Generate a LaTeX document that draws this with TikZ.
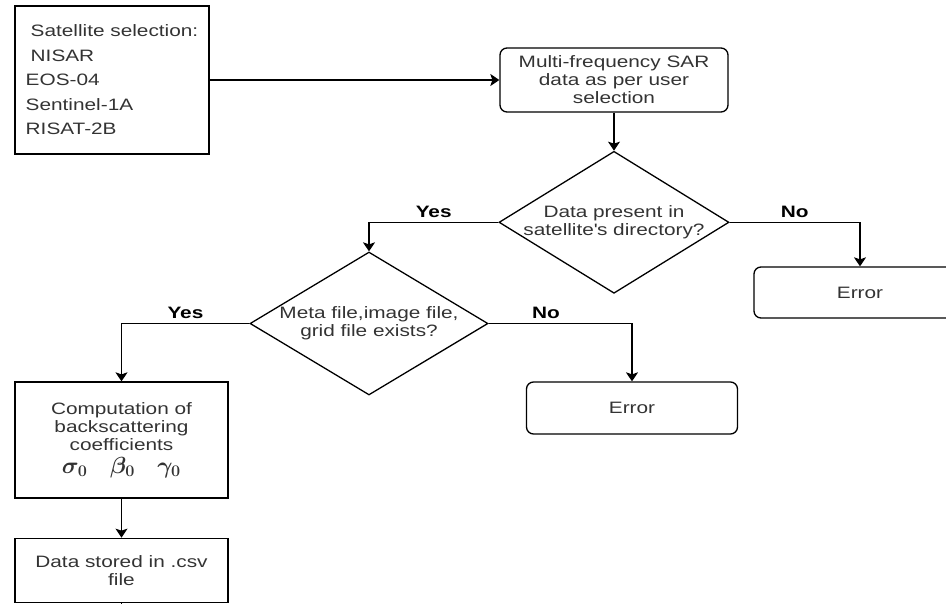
\documentclass[tikz,border=0pt]{standalone}
\usepackage{fontspec}
\setmainfont{Liberation Sans}[FakeStretch=1.26]
\usetikzlibrary{arrows.meta,positioning,shapes.geometric}

\begin{document}
\begin{tikzpicture}[x=1pt,y=-1pt,
  node distance=38pt and 20pt,
  every node/.style={font=\fontsize{16.5}{18}\selectfont,text=black!80},
  box/.style={draw,line width=1.3pt,align=center,inner sep=2pt},
  rbox/.style={box,rounded corners=7pt},
  dec/.style={draw,diamond,line width=1.3pt,inner sep=0pt},
  lab/.style={font=\fontsize{16.5}{18}\selectfont\bfseries,text=black,yshift=1pt},
  arr/.style={-{Stealth[length=9pt,width=12pt,inset=2pt]},line width=1.3pt}]
\useasboundingbox (0,0) rectangle (946,603);
\clip (0,0) rectangle (946,603);
\node[box,minimum width=194pt,minimum height=148pt,align=left,font=\fontsize{16.5}{24.5}\selectfont] (sat) at (112,80)
  {\hspace*{5pt}Satellite selection:\\\hspace*{5pt}NISAR\\EOS-04\\Sentinel-1A\\RISAT-2B};
\node[rbox,minimum width=228pt,minimum height=64pt] (data) at (614,80) {Multi-frequency SAR\\data as per user\\selection};
\node[dec,minimum width=230pt,minimum height=142pt,below=38pt of data,
  label={[align=center]center:{Data present in\\satellite\textquotesingle s directory?}}] (chk) {};
\node[dec,minimum width=238pt,minimum height=143pt,
  label={[align=center]center:{Meta file,image file,\\grid file exists?}}] (meta) at (369,323.5) {};
\node[rbox,minimum width=212pt,minimum height=51pt] (err1) at (860,292.5) {Error};
\node[rbox,minimum width=211pt,minimum height=52pt] (err2) at (632,408) {Error};
\node[box,minimum width=213pt,minimum height=116pt] (comp) at (121.5,440)
  {Computation of\\backscattering\\coefficients\\[5pt]\scalebox{1.35}{\boldmath$\sigma_0\quad\beta_0\quad\gamma_0$}};
\node[box,minimum width=213pt,minimum height=64pt,below=39pt of comp] (csv) {Data stored in .csv\\file};
\coordinate (out) at (121.5,620);
% connectors
\draw[arr] (sat) -- (data);
\draw[arr] (data) -- (chk);
\draw[arr] (chk.west) -| node[lab,pos=0.25,above]{Yes} (meta.north);
\draw[arr] (chk.east) -| node[lab,pos=0.25,above]{No} (err1.north);
\draw[arr] (meta.west) -| node[lab,pos=0.25,above]{Yes} (comp.north);
\draw[arr] (meta.east) -| node[lab,pos=0.2,above]{No} (err2.north);
\draw[arr] (comp) -- (csv);
\draw[line width=1.3pt] (csv) -- (out);
\end{tikzpicture}
\end{document}
